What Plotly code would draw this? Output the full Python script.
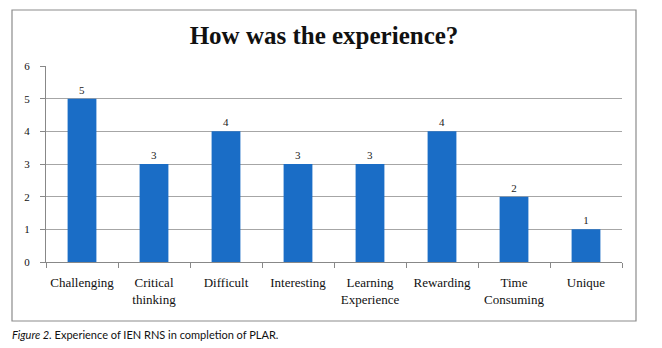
import plotly.graph_objects as go

categories = ["Challenging", "Critical<br>thinking", "Difficult", "Interesting",
              "Learning<br>Experience", "Rewarding", "Time<br>Consuming", "Unique"]
counts = [5, 3, 4, 3, 3, 4, 2, 1]
y_ticks = [0, 1, 2, 3, 4, 5, 6]

W, H = 662, 348
L, R, T, B = 46, 622, 66, 262  # plot area in px

def px_x(x):
    return (x - L) / (R - L)

def px_y(y):
    return (B - y) / (B - T)

serif = "Liberation Serif"
label_font = dict(family=serif, size=11, color="#222")

fig = go.Figure(go.Bar(
    x=categories, y=counts,
    marker=dict(color="#1a6dc6", line=dict(width=0)),
    text=[str(c) for c in counts], textposition="outside",
    textfont=label_font, outsidetextfont=label_font, insidetextfont=label_font,
    cliponaxis=False,
))

fig.update_layout(
    width=W, height=H,
    margin=dict(l=L, r=W - R, t=T, b=H - B),
    paper_bgcolor="white", plot_bgcolor="white",
    bargap=0.6, showlegend=False,
    font=dict(family=serif, color="#222"),
    uniformtext=dict(minsize=11, mode="show"),
    title=dict(text="<b>How was the experience?</b>", x=px_x(324), xref="paper",
               xanchor="center", y=1 - 35 / H, yanchor="middle",
               font=dict(family=serif, size=25, color="#111")),
    xaxis=dict(type="category", tickson="boundaries", ticks="outside", ticklen=5,
               tickangle=0, tickcolor="#888", showline=True, linecolor="#888", linewidth=1,
               ticklabelstandoff=8,
               tickfont=dict(family=serif, size=13, color="#111"), showgrid=False),
    yaxis=dict(range=[0, 6], tickvals=y_ticks, ticks="outside", ticklen=5,
               tickcolor="#888", showline=True, linecolor="#888", linewidth=1,
               ticklabelstandoff=8,
               showgrid=True, gridcolor="#a6a6a6", gridwidth=1, zeroline=False,
               tickfont=dict(family=serif, size=11, color="#111")),
    shapes=[dict(type="rect", xref="paper", yref="paper",
                 x0=px_x(12), x1=px_x(636), y0=px_y(321), y1=px_y(10),
                 line=dict(color="#8c8c8c", width=1.2), layer="below")],
    annotations=[dict(text="<i>Figure 2.</i> Experience of IEN RNS in completion of PLAR.",
                      xref="paper", yref="paper", x=px_x(10), y=px_y(334),
                      xanchor="left", yanchor="middle", showarrow=False,
                      font=dict(family="Lato", size=11, color="#111"))],
)

fig.write_html("out.html")
